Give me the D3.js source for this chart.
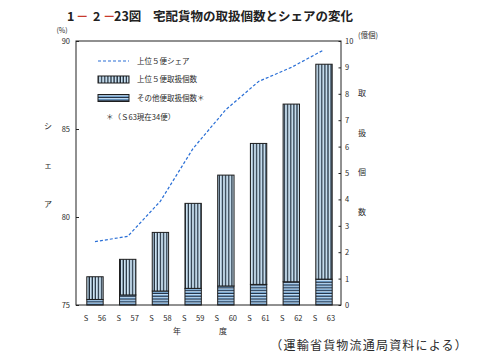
<!DOCTYPE html>
<html><head><meta charset="utf-8">
<script src="https://cdn.jsdelivr.net/npm/d3@7"></script>
<style>body{margin:0;background:#fff}svg{display:block}text{font-family:"Noto Sans CJK JP","Noto Sans",sans-serif;fill:#2a2a2a}</style>
</head><body><svg id="c" width="477" height="360"></svg>
<script>
// data (億個, %)
const years = ["56","57","58","59","60","61","62","63"];
const top5 = [0.86,1.35,2.22,3.22,4.20,5.34,6.73,8.14];
const others = [0.21,0.38,0.53,0.63,0.72,0.78,0.88,0.98];
const share = [78.6,78.9,80.9,83.9,86.1,87.7,88.5,89.5];
const leftTicks = [75,80,85,90];
const rightTicks = [0,1,2,3,4,5,6,7,8,9,10];
const title = ["1","－","2","－","23図","宅配貨物の取扱個数とシェアの変化"];
const leftTitle = ["シ","ェ","ア"];
const rightTitle = ["取","扱","個","数"];
const legendLabels = ["上位５便シェア","上位５便取扱個数","その他便取扱個数＊"];
const note = "＊（Ｓ63現在34便）";
const source = "（運輸省貨物流通局資料による）";

const svg = d3.select("#c");
const L=76,R=341,T=41,B=305;
const x = d3.scaleBand().domain(years).range([77,342]).paddingInner(0.5).paddingOuter(0.3);
const yL = d3.scaleLinear().domain([75,90]).range([B,T]);
const yR = d3.scaleLinear().domain([0,10]).range([B,T]);

const defs = svg.append("defs");
const pv = defs.append("pattern").attr("id","pv").attr("patternUnits","userSpaceOnUse").attr("width",3.1).attr("height",4);
pv.append("rect").attr("width",3.1).attr("height",4).attr("fill","#a9cbe6");
pv.append("rect").attr("x",0.3).attr("width",0.8).attr("height",4).attr("fill","#e8f2f8");
pv.append("rect").attr("x",1.9).attr("width",1.2).attr("height",4).attr("fill","#1f2a36");
const ph = defs.append("pattern").attr("id","ph").attr("patternUnits","userSpaceOnUse").attr("width",4).attr("height",2.8);
ph.append("rect").attr("width",4).attr("height",2.8).attr("fill","#7eb6e6");
ph.append("rect").attr("y",0.2).attr("width",4).attr("height",0.6).attr("fill","#eaf4fb");
ph.append("rect").attr("y",1.7).attr("width",4).attr("height",1.1).attr("fill","#233246");

// title
const tx = [67,76,93,103,114,153];
const tcol = ["#222","#c83a2c","#222","#c83a2c","#222","#222"];
title.forEach((t,i)=>svg.append("text").attr("x",tx[i]).attr("y",21).attr("font-size",12.5).attr("font-weight","bold")
  .style("fill",tcol[i]).text(t));

// frame
svg.append("rect").attr("x",L).attr("y",T).attr("width",R-L).attr("height",B-T).attr("fill","none").attr("stroke","#222").attr("stroke-width",1);

// bars
const g = svg.append("g");
years.forEach((yv,i)=>{
  const bx = x(yv), bw = x.bandwidth();
  g.append("rect").attr("x",bx).attr("y",yR(others[i])).attr("width",bw).attr("height",yR(0)-yR(others[i]))
    .attr("fill","url(#ph)").attr("stroke","#1d1d1d").attr("stroke-width",1);
  g.append("rect").attr("x",bx).attr("y",yR(others[i]+top5[i])).attr("width",bw).attr("height",yR(others[i])-yR(others[i]+top5[i]))
    .attr("fill","url(#pv)").attr("stroke","#1d1d1d").attr("stroke-width",1);
});

// line
const line = d3.line().x((d,i)=>x(years[i])+x.bandwidth()/2).y(d=>yL(d));
svg.append("path").datum(share).attr("d",line).attr("fill","none").attr("stroke","#2a6fd6").attr("stroke-width",1.2).attr("stroke-dasharray","3,2");

// axes
const fs = 7.5;
const ax1 = svg.append("g").attr("transform",`translate(${L},0)`).call(d3.axisLeft(yL).tickValues(leftTicks).tickSize(-3).tickSizeOuter(0).tickPadding(6));
ax1.select(".domain").remove();
ax1.selectAll("line").attr("stroke","#222");
ax1.selectAll("text").attr("font-size",fs).style("font-family","'Noto Sans CJK JP'");
const ax2 = svg.append("g").attr("transform",`translate(${R},0)`).call(d3.axisRight(yR).tickValues(rightTicks).tickSize(-2.5).tickSizeOuter(0).tickPadding(4));
ax2.select(".domain").remove();
ax2.selectAll("line").attr("stroke","#222");
ax2.selectAll("text").attr("font-size",fs).style("font-family","'Noto Sans CJK JP'");

// x labels
years.forEach(yv=>{
  const c = x(yv)+x.bandwidth()/2;
  svg.append("text").attr("x",c-9).attr("y",321).attr("text-anchor","middle").attr("font-size",fs).text("S");
  svg.append("text").attr("x",c+7).attr("y",321).attr("text-anchor","middle").attr("font-size",fs).text(yv);
});
svg.append("text").attr("x",177).attr("y",334).attr("text-anchor","middle").attr("font-size",8).text("年");
svg.append("text").attr("x",223).attr("y",334).attr("text-anchor","middle").attr("font-size",8).text("度");
svg.append("text").attr("x",468).attr("y",350).attr("text-anchor","end").attr("font-size",12).attr("letter-spacing",1.2).text(source);

// axis titles
svg.append("text").attr("x",62).attr("y",33).attr("text-anchor","middle").attr("font-size",7).text("(%)");
svg.append("text").attr("x",368).attr("y",38).attr("text-anchor","middle").attr("font-size",7.5).text("(億個)");
leftTitle.forEach((t,i)=>svg.append("text").attr("x",48).attr("y",129+i*39).attr("text-anchor","middle").attr("font-size",8).text(t));
rightTitle.forEach((t,i)=>svg.append("text").attr("x",362).attr("y",96+i*39.5).attr("text-anchor","middle").attr("font-size",8).text(t));

// legend
svg.append("line").attr("x1",98).attr("x2",129).attr("y1",61).attr("y2",61).attr("stroke","#2a6fd6").attr("stroke-width",1.2).attr("stroke-dasharray","3,2");
svg.append("rect").attr("x",98).attr("y",76).attr("width",31).attr("height",7).attr("fill","url(#pv)").attr("stroke","#1d1d1d");
svg.append("rect").attr("x",98).attr("y",94.5).attr("width",31).attr("height",7).attr("fill","url(#ph)").attr("stroke","#1d1d1d");
[63.5,82,101].forEach((yy,i)=>svg.append("text").attr("x",137).attr("y",yy).attr("font-size",7.5).text(legendLabels[i]));
svg.append("text").attr("x",106).attr("y",120).attr("font-size",7.5).text(note);
</script></body></html>
